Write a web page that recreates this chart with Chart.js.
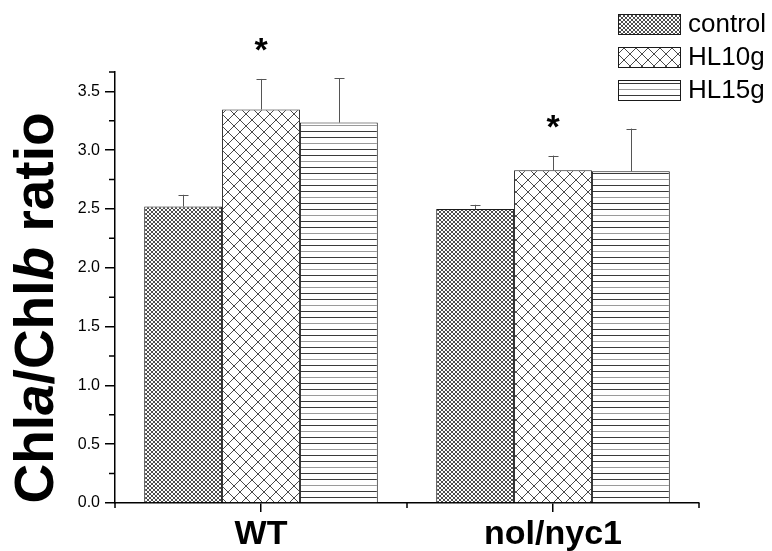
<!DOCTYPE html>
<html>
<head>
<meta charset="utf-8">
<script src="https://cdn.jsdelivr.net/npm/chart.js@4/dist/chart.umd.min.js"></script>
<style>
  html, body { margin: 0; padding: 0; background: #fff; }
  canvas { display: block; }
</style>
</head>
<body>
<canvas id="chart" width="772" height="551"></canvas>
<script>
// Chlorophyll a/b ratio per genotype and light treatment
const categories = ['WT', 'nol/nyc1'];
const seriesNames = ['control', 'HL10g', 'HL15g'];

const controlValues = [2.52, 2.50];
const hl10gValues   = [3.345, 2.828];
const hl15gValues   = [3.234, 2.82];

// upper error bars (SD)
const controlErrors = [0.10, 0.035];
const hl10gErrors   = [0.26, 0.125];
const hl15gErrors   = [0.375, 0.363];

// significance markers (*) per bar
const controlSig = [false, false];
const hl10gSig   = [true, true];
const hl15gSig   = [false, false];

// y axis range and tick steps
const yMin = 0;
const yMax = 3.664;
const yMajorStep = 0.5;
const yMinorStep = 0.25;

const FONT = '"Liberation Sans", Arial, Helvetica, sans-serif';

// hatch fills
function makePattern(kind) {
  const c = document.createElement('canvas');
  const g = c.getContext('2d');
  if (kind === 'fineCross') {
    // crisp one-pixel diagonal grid, 4 px period
    const p = 4;
    c.width = p; c.height = p;
    g.fillStyle = '#fff';
    g.fillRect(0, 0, p, p);
    g.fillStyle = '#4d4d4d';
    for (let i = 0; i < p; i++) {
      g.fillRect(i, i, 1, 1);
      g.fillRect(p - 1 - i, i, 1, 1);
    }
  } else if (kind === 'wideCross') {
    const p = 12;
    c.width = p; c.height = p;
    g.fillStyle = '#fff';
    g.fillRect(0, 0, p, p);
    g.strokeStyle = '#4a4a4a';
    g.lineWidth = 1;
    g.beginPath();
    g.moveTo(0, 0); g.lineTo(p, p);
    g.moveTo(p, 0); g.lineTo(0, p);
    g.stroke();
  } else {
    c.width = 8; c.height = 18;
    g.fillStyle = '#fff';
    g.fillRect(0, 0, 8, 18);
    const cols = ['#3a3a3a', '#3a3a3a', '#9a9a9a'];
    for (let i = 0; i < 3; i++) {
      g.fillStyle = cols[i];
      g.fillRect(0, i * 6 + 5, 8, 1);
    }
  }
  return g.createPattern(c, 'repeat');
}

const fills = [makePattern('fineCross'), makePattern('wideCross'), makePattern('hlines')];

const datasets = [
  { label: seriesNames[0], data: controlValues, errors: controlErrors, sig: controlSig },
  { label: seriesNames[1], data: hl10gValues,   errors: hl10gErrors,   sig: hl10gSig },
  { label: seriesNames[2], data: hl15gValues,   errors: hl15gErrors,   sig: hl15gSig }
].map((d, i) => Object.assign(d, {
  backgroundColor: fills[i],
  borderColor: '#1a1a1a',
  borderWidth: 1,
  borderSkipped: 'start',
  categoryPercentage: 0.8,
  barPercentage: 1.0
}));

// error bars, asterisks, minor ticks, legend, y title
const decorations = {
  id: 'decorations',
  afterDatasetsDraw(chart) {
    const ctx = chart.ctx;
    const y = chart.scales.y;
    ctx.save();
    chart.data.datasets.forEach((ds, di) => {
      const meta = chart.getDatasetMeta(di);
      meta.data.forEach((bar, i) => {
        const top = y.getPixelForValue(ds.data[i] + ds.errors[i]);
        const x = Math.round(bar.x) + 0.5;
        ctx.strokeStyle = '#555';
        ctx.lineWidth = 1;
        ctx.beginPath();
        ctx.moveTo(x, bar.y);
        ctx.lineTo(x, top);
        ctx.moveTo(x - 5, Math.round(top) + 0.5);
        ctx.lineTo(x + 5, Math.round(top) + 0.5);
        ctx.stroke();
        if (ds.sig[i]) {
          ctx.font = 'bold 34px ' + FONT;
          ctx.fillStyle = '#000';
          ctx.textAlign = 'center';
          ctx.textBaseline = 'alphabetic';
          const m = ctx.measureText('*');
          const cy = top - 34;
          const base = cy + (m.actualBoundingBoxAscent - m.actualBoundingBoxDescent) / 2;
          ctx.fillText('*', bar.x, base);
        }
      });
    });
    ctx.restore();
  },
  afterDraw(chart) {
    const ctx = chart.ctx;
    const xs = chart.scales.x;
    const ys = chart.scales.y;
    const area = chart.chartArea;
    ctx.save();
    ctx.strokeStyle = '#000';
    ctx.lineWidth = 1.5;
    ctx.beginPath();
    // minor y ticks
    for (let v = yMinorStep; v < yMax; v += yMajorStep) {
      const py = ys.getPixelForValue(v);
      ctx.moveTo(area.left - 6, py);
      ctx.lineTo(area.left, py);
    }
    ctx.moveTo(area.left - 6, ys.getPixelForValue(yMax));
    ctx.lineTo(area.left, ys.getPixelForValue(yMax));
    // minor x ticks at category boundaries
    const step = xs.getPixelForValue(1) - xs.getPixelForValue(0);
    for (let k = 0; k <= categories.length; k++) {
      const px = xs.getPixelForValue(0) - step / 2 + k * step;
      ctx.moveTo(px, area.bottom);
      ctx.lineTo(px, area.bottom + 5);
    }
    ctx.stroke();

    // legend
    chart.data.datasets.forEach((ds, i) => {
      const bx = 618, by = 14 + i * 33, bw = 62, bh = 20;
      ctx.fillStyle = ds.backgroundColor;
      ctx.fillRect(bx, by, bw, bh);
      ctx.strokeStyle = '#1a1a1a';
      ctx.lineWidth = 1;
      ctx.strokeRect(bx + 0.5, by + 0.5, bw, bh);
      ctx.fillStyle = '#000';
      ctx.font = '26px ' + FONT;
      ctx.textAlign = 'left';
      ctx.textBaseline = 'middle';
      ctx.fillText(ds.label, 688, by + bh / 2 + 1);
    });

    // y axis title with italic a / b
    const parts = [
      ['Chl', 'bold'], ['a', 'italic bold'], ['/Chl', 'bold'], ['b', 'italic bold'], [' ratio', 'bold']
    ];
    const size = 55;
    let total = 0;
    parts.forEach(p => { ctx.font = p[1] + ' ' + size + 'px ' + FONT; total += ctx.measureText(p[0]).width; });
    ctx.translate(53, 308);
    ctx.rotate(-Math.PI / 2);
    ctx.fillStyle = '#000';
    ctx.textAlign = 'left';
    ctx.textBaseline = 'alphabetic';
    let cx = -total / 2;
    parts.forEach(p => {
      ctx.font = p[1] + ' ' + size + 'px ' + FONT;
      ctx.fillText(p[0], cx, 0);
      cx += ctx.measureText(p[0]).width;
    });
    ctx.restore();
  }
};

new Chart(document.getElementById('chart'), {
  type: 'bar',
  data: { labels: categories, datasets },
  options: {
    responsive: false,
    animation: false,
    events: [],
    layout: { padding: { top: 72, right: 73, left: 0, bottom: 0 } },
    plugins: { legend: { display: false }, tooltip: { enabled: false }, title: { display: false } },
    scales: {
      x: {
        type: 'category',
        offset: true,
        grid: { offset: false, drawOnChartArea: false, drawTicks: true, tickLength: 9, color: '#000', lineWidth: 1.5 },
        border: { display: true, color: '#000', width: 1.5 },
        ticks: { color: '#000', padding: 2, maxRotation: 0, font: { family: FONT, size: 34, weight: 'bold' } },
        afterFit(s) { s.height = 48; }
      },
      y: {
        min: yMin,
        max: yMax,
        grid: { drawOnChartArea: false, drawTicks: true, tickLength: 10, color: '#000', lineWidth: 1.5 },
        border: { display: true, color: '#000', width: 1.5 },
        ticks: {
          stepSize: yMajorStep,
          includeBounds: false,
          color: '#000',
          padding: 5,
          font: { family: FONT, size: 16 },
          callback: v => Number(v).toFixed(1)
        },
        afterFit(s) { s.width = 115; }
      }
    }
  },
  plugins: [decorations]
});
</script>
</body>
</html>
